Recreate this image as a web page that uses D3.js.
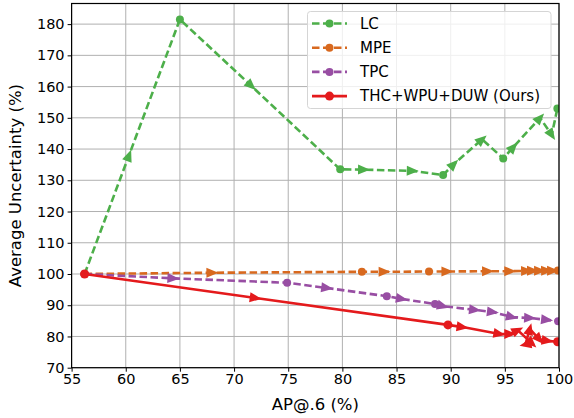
<!DOCTYPE html>
<html><head><meta charset="utf-8">
<script src="https://cdn.jsdelivr.net/npm/d3@7"></script>
<style>
html,body{margin:0;padding:0;background:#fff;}
svg{display:block;font-family:"DejaVu Sans",sans-serif;}
</style></head>
<body>
<svg id="chart" width="574" height="418"></svg>
<script>
// ---- data ----
const seriesNames = ["LC", "MPE", "TPC", "THC+WPU+DUW (Ours)"];
const xTicks = [55, 60, 65, 70, 75, 80, 85, 90, 95, 100];
const yTicks = [70, 80, 90, 100, 110, 120, 130, 140, 150, 160, 170, 180];

const lcX = [56.2, 60.3, 65.0, 71.6, 79.8, 82.0, 86.5, 89.3, 90.3, 92.9, 94.85, 95.8, 98.25, 99.33, 99.85];
const lcY = [100, 138, 181.5, 160.2, 133.5, 133.4, 133.0, 131.7, 135.2, 143.1, 137.0, 140.7, 150.0, 144.5, 153.0];
const lcDots = [0, 2, 4, 7, 10, 14];

const mpeX = [56.2, 68.0, 81.8, 83.9, 88.0, 89.7, 93.45, 95.5, 97.05, 97.6, 98.25, 98.9, 99.45, 99.9];
const mpeY = [100, 100.4, 100.7, 100.7, 100.8, 100.8, 100.9, 100.9, 101.0, 101.0, 101.0, 101.05, 101.05, 101.1];
const mpeDots = [0, 2, 4, 13];

const tpcX = [56.2, 64.4, 74.9, 78.6, 84.1, 85.5, 88.55, 89.3, 92.25, 93.9, 95.66, 97.33, 98.9, 99.92];
const tpcY = [100, 98.6, 97.2, 95.5, 92.9, 92.0, 90.4, 89.7, 88.5, 87.8, 86.2, 85.9, 85.3, 84.9];
const tpcDots = [0, 2, 4, 6, 13];

const oursX = [56.2, 72.0, 89.75, 91.1, 94.5, 95.5, 96.2, 97.5, 96.9, 97.3, 98.2, 98.95, 99.87];
const oursY = [100, 92.3, 83.7, 83.0, 80.8, 80.8, 82.0, 77.8, 77.4, 82.4, 79.0, 78.6, 78.3];
const oursDots = [0, 2, 12];

const xLabel = "AP@.6 (%)";
const yLabel = "Average Uncertainty (%)";

// ---- styling ----
const colors = ["#4daf4a", "#d8691f", "#984ea3", "#e41a1c"];
const dashed = [true, true, true, false];

const svg = d3.select("#chart");
const m = {l: 71.6, r: 559, t: 3.5, b: 367.7};
const x = d3.scaleLinear().domain([55, 100]).range([m.l, m.r]);
const y = d3.scaleLinear().domain([70, 186.6]).range([m.b, m.t]);

// grid
const grid = svg.append("g");
grid.selectAll("line.gx").data(xTicks).join("line")
  .attr("x1", d => x(d)).attr("x2", d => x(d)).attr("y1", m.t).attr("y2", m.b)
  .attr("stroke", "#b0b0b0").attr("stroke-width", 1);
grid.selectAll("line.gy").data(yTicks).join("line")
  .attr("y1", d => y(d)).attr("y2", d => y(d)).attr("x1", m.l).attr("x2", m.r)
  .attr("stroke", "#b0b0b0").attr("stroke-width", 1);

// axes
const xAxis = svg.append("g").attr("transform", `translate(0,${m.b})`)
  .call(d3.axisBottom(x).tickValues(xTicks).tickSize(4).tickPadding(2).tickFormat(d3.format("d")));
const yAxis = svg.append("g").attr("transform", `translate(${m.l},0)`)
  .call(d3.axisLeft(y).tickValues(yTicks).tickSize(4).tickPadding(3).tickFormat(d3.format("d")));
[xAxis, yAxis].forEach(a => {
  a.select(".domain").remove();
  a.selectAll("text").attr("font-size", 14.5).attr("fill", "#000")
    .attr("font-family", '"DejaVu Sans",sans-serif');
  a.selectAll("line").attr("stroke", "#000");
});

const series = [
  {xs: lcX, ys: lcY, dots: lcDots},
  {xs: mpeX, ys: mpeY, dots: mpeDots},
  {xs: tpcX, ys: tpcY, dots: tpcDots},
  {xs: oursX, ys: oursY, dots: oursDots}
];

svg.append("clipPath").attr("id", "pc").append("rect")
  .attr("x", m.l).attr("y", m.t).attr("width", m.r - m.l).attr("height", m.b - m.t);

const plot = svg.append("g").attr("clip-path", "url(#pc)");
const line = d3.line().x(d => x(d[0])).y(d => y(d[1]));

series.forEach((s, i) => {
  const pts = s.xs.map((v, k) => [v, s.ys[k]]);
  const g = plot.append("g");
  g.append("path").datum(pts).attr("d", line)
    .attr("fill", "none").attr("stroke", colors[i]).attr("stroke-width", 2.6)
    .attr("stroke-dasharray", dashed[i] ? "7.5,3.5" : null);
  const arrows = pts.map((p, k) => ({p, k})).filter(o => o.k > 0 && !s.dots.includes(o.k));
  g.selectAll("path.arrow").data(arrows).join("path")
    .attr("d", "M6,0 L-6,5 L-6,-5 Z")
    .attr("fill", colors[i])
    .attr("transform", o => {
      const a = pts[o.k - 1], b = o.p;
      const ang = Math.atan2(y(b[1]) - y(a[1]), x(b[0]) - x(a[0])) * 180 / Math.PI;
      return `translate(${x(b[0])},${y(b[1])}) rotate(${ang})`;
    });
  g.selectAll("circle").data(s.dots.map(k => pts[k])).join("circle")
    .attr("cx", d => x(d[0])).attr("cy", d => y(d[1]))
    .attr("r", i === 3 ? 4.5 : 4).attr("fill", colors[i]);
});

// frame
svg.append("rect").attr("x", m.l).attr("y", m.t).attr("width", m.r - m.l).attr("height", m.b - m.t)
  .attr("fill", "none").attr("stroke", "#000").attr("stroke-width", 1.2);

// axis labels
svg.append("text").attr("x", (m.l + m.r) / 2).attr("y", 410).attr("text-anchor", "middle")
  .attr("font-size", 16.5).text(xLabel);
svg.append("text").attr("transform", `translate(21,${(m.t + m.b) / 2}) rotate(-90)`)
  .attr("text-anchor", "middle").attr("font-size", 16.5).text(yLabel);

// legend
const lg = svg.append("g");
lg.append("rect").attr("x", 307.5).attr("y", 11.5).attr("width", 243.5).attr("height", 97)
  .attr("rx", 3).attr("fill", "#fff").attr("fill-opacity", 0.8).attr("stroke", "#d5d5d5");
seriesNames.forEach((n, i) => {
  const yy = 23.5 + i * 24.2;
  lg.append("line").attr("x1", 312).attr("x2", 347).attr("y1", yy).attr("y2", yy)
    .attr("stroke", colors[i]).attr("stroke-width", 2.6)
    .attr("stroke-dasharray", dashed[i] ? "7.5,3.5" : null);
  lg.append("circle").attr("cx", 329.5).attr("cy", yy).attr("r", i === 3 ? 4.5 : 4).attr("fill", colors[i]);
  lg.append("text").attr("x", 360).attr("y", yy).attr("dy", "0.35em").attr("font-size", 15).text(n);
});
</script>
</body></html>
